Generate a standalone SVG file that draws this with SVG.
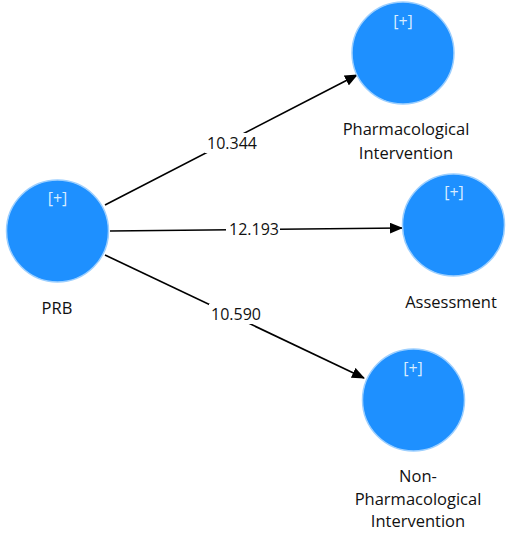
<svg xmlns="http://www.w3.org/2000/svg" width="510" height="533" viewBox="0 0 510 533">
<style>
.node{fill:#1E90FF;stroke:#9CCFFF;stroke-width:1.5}
.plus{font-family:"Open Sans","DejaVu Sans",sans-serif;font-size:16px;fill:#D8ECFF;text-anchor:middle}
.lbl{font-family:"Open Sans","DejaVu Sans",sans-serif;font-size:16.5px;fill:#111;text-anchor:middle}
.edge{stroke:#000;stroke-width:1.6;fill:none;marker-end:url(#arr)}
.elbl{font-family:"Open Sans","DejaVu Sans",sans-serif;font-size:16px;fill:#111;text-anchor:middle}
</style>
<defs>
<marker id="arr" markerWidth="13" markerHeight="11" refX="12" refY="5.5" orient="auto" markerUnits="userSpaceOnUse">
<path d="M0,0 L13,5.5 L0,11 z" fill="#000"/>
</marker>
</defs>
<rect width="510" height="533" fill="#fff"/>
<g id="connectors">
<line class="edge" x1="105" y1="205" x2="357" y2="75"/>
<rect x="205" y="133" width="52" height="20" fill="#fff"/>
<text class="elbl" x="232" y="149">10.344</text>
<line class="edge" x1="110" y1="231" x2="402" y2="228"/>
<rect x="226" y="219" width="54" height="20" fill="#fff"/>
<text class="elbl" x="254" y="235">12.193</text>
<line class="edge" x1="105" y1="255" x2="364" y2="378"/>
<rect x="209" y="304" width="52" height="20" fill="#fff"/>
<text class="elbl" x="236" y="320">10.590</text>
</g>
<g id="PRB">
<circle class="node" cx="57.5" cy="231" r="51"/>
<text class="plus" x="57.5" y="204">[+]</text>
<text class="lbl" x="57" y="314">PRB</text>
</g>
<g id="PharmacologicalIntervention">
<circle class="node" cx="403" cy="53" r="51"/>
<text class="plus" x="403" y="27">[+]</text>
<text class="lbl" x="406" y="135">Pharmacological</text>
<text class="lbl" x="406" y="159">Intervention</text>
</g>
<g id="Assessment">
<circle class="node" cx="453.5" cy="225" r="51"/>
<text class="plus" x="454" y="198">[+]</text>
<text class="lbl" x="451" y="308">Assessment</text>
</g>
<g id="NonPharmacologicalIntervention">
<circle class="node" cx="413.5" cy="400" r="51"/>
<text class="plus" x="413" y="374">[+]</text>
<text class="lbl" x="418" y="482">Non-</text>
<text class="lbl" x="418" y="505">Pharmacological</text>
<text class="lbl" x="418" y="527">Intervention</text>
</g>
</svg>
